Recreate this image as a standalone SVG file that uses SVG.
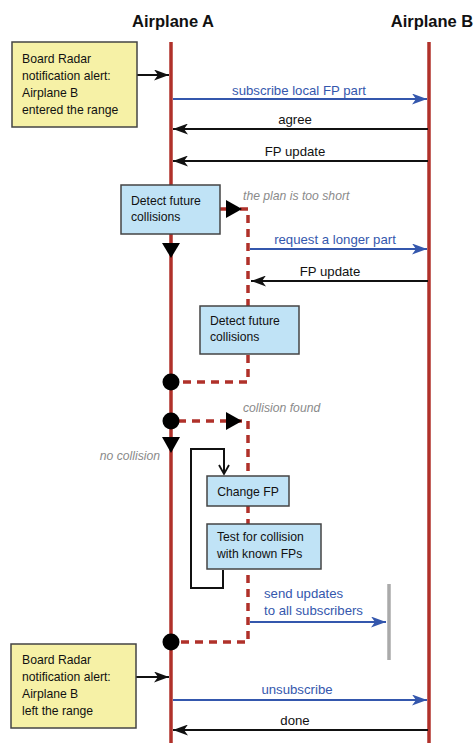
<svg xmlns="http://www.w3.org/2000/svg" width="476" height="743" viewBox="0 0 476 743">
<style>
text{font-family:"Liberation Sans","Open Sans",Arial,sans-serif;font-size:12.2px;fill:#111}
.title{font-weight:bold;font-size:16.5px;text-anchor:middle}
.lbl{font-size:13.2px}
.blue{fill:#3457ad}
.note{fill:#8a8a8a;font-style:italic}
.mid{text-anchor:middle}
.life{stroke:#b0312a;stroke-width:3.5;fill:none}
.dash{stroke:#b0312a;stroke-width:3.5;fill:none;stroke-dasharray:8 6}
.msg{stroke:#111;stroke-width:2;fill:none}
.bmsg{stroke:#3457ad;stroke-width:2;fill:none}
.ybox{fill:#f6f1a6;stroke:#444;stroke-width:1.5}
.cbox{fill:#c0e3f6;stroke:#444;stroke-width:1.5}
</style>
<defs>
<marker id="ah" markerUnits="userSpaceOnUse" markerWidth="15" markerHeight="11" refX="15" refY="5.5" orient="auto"><path d="M0,0 L15,5.5 L0,11 L4,5.5 z" fill="#111"/></marker>
<marker id="ahb" markerUnits="userSpaceOnUse" markerWidth="15" markerHeight="11" refX="15" refY="5.5" orient="auto"><path d="M0,0 L15,5.5 L0,11 L4,5.5 z" fill="#3457ad"/></marker>
<marker id="av" markerUnits="userSpaceOnUse" markerWidth="12" markerHeight="12" refX="10" refY="6" orient="auto"><path d="M1,1 L10,6 L1,11" fill="none" stroke="#111" stroke-width="1.8"/></marker>
</defs>
<rect width="476" height="743" fill="#fff"/>
<g id="lifelines">
<text class="title" x="173" y="27">Airplane A</text>
<text class="title" x="432" y="27">Airplane B</text>
<line class="life" x1="171" y1="42" x2="171" y2="743"/>
<line class="life" x1="429" y1="42" x2="429" y2="743"/>
</g>
<g id="connectors">
<line class="msg" x1="137" y1="75" x2="169" y2="75" marker-end="url(#ah)"/>
<line class="bmsg" x1="173" y1="99" x2="427" y2="99" marker-end="url(#ahb)"/>
<line class="msg" x1="428" y1="129" x2="173" y2="129" marker-end="url(#ah)"/>
<line class="msg" x1="428" y1="161" x2="173" y2="161" marker-end="url(#ah)"/>
<line class="life" x1="220" y1="209" x2="230" y2="209"/>
<path class="dash" d="M240,209 H248 V382 H178"/>
<line class="bmsg" x1="250" y1="249" x2="427" y2="249" marker-end="url(#ahb)"/>
<line class="msg" x1="428" y1="281" x2="251" y2="281" marker-end="url(#ah)"/>
<path class="dash" d="M178,421 H248 V642 H178"/>
<path class="msg" d="M223,570 V588 H191 V449 H224 V474" marker-end="url(#av)"/>
<line class="bmsg" x1="250" y1="622" x2="386" y2="622" marker-end="url(#ahb)"/>
<line x1="389" y1="584" x2="389" y2="660" stroke="#aaa" stroke-width="3.5"/>
<line class="msg" x1="136" y1="677" x2="169" y2="677" marker-end="url(#ah)"/>
<line class="bmsg" x1="173" y1="700" x2="427" y2="700" marker-end="url(#ahb)"/>
<line class="msg" x1="428" y1="730" x2="173" y2="730" marker-end="url(#ah)"/>
<polygon points="226,200 242,209 226,218" fill="#000"/>
<polygon points="162,243 180,243 171,258" fill="#000"/>
<polygon points="226,412 242,421 226,430" fill="#000"/>
<polygon points="162,437 180,437 171,453" fill="#000"/>
<circle cx="171" cy="382" r="8.5" fill="#000"/>
<circle cx="171" cy="421" r="8.5" fill="#000"/>
<circle cx="171" cy="642" r="8.5" fill="#000"/>
</g>
<g id="labels">
<text class="lbl blue mid" x="299" y="95">subscribe local FP part</text>
<text class="lbl mid" x="295" y="124">agree</text>
<text class="lbl mid" x="295" y="156">FP update</text>
<text class="note" x="243" y="200">the plan is too short</text>
<text class="lbl blue mid" x="335" y="244">request a longer part</text>
<text class="lbl mid" x="330" y="276">FP update</text>
<text class="note" x="243" y="412">collision found</text>
<text class="note" x="160" y="460" text-anchor="end">no collision</text>
<text class="lbl blue" x="264" y="598">send updates</text>
<text class="lbl blue" x="264" y="615">to all subscribers</text>
<text class="lbl blue mid" x="297" y="694">unsubscribe</text>
<text class="lbl mid" x="295" y="725">done</text>
</g>
<g id="radar-enter">
<rect class="ybox" x="12" y="42" width="125" height="85"/>
<text x="22" y="63">Board Radar</text>
<text x="22" y="80">notification alert:</text>
<text x="22" y="97">Airplane B</text>
<text x="22" y="114">entered the range</text>
</g>
<g id="detect1">
<rect class="cbox" x="121" y="185" width="99" height="49"/>
<text x="131" y="205">Detect future</text>
<text x="131" y="221">collisions</text>
</g>
<g id="detect2">
<rect class="cbox" x="200" y="306" width="99" height="48"/>
<text x="210" y="325">Detect future</text>
<text x="210" y="341">collisions</text>
</g>
<g id="change-fp">
<rect class="cbox" x="207" y="476" width="82" height="30"/>
<text class="mid" x="248" y="496">Change FP</text>
</g>
<g id="test-collision">
<rect class="cbox" x="207" y="524" width="114" height="45"/>
<text x="217" y="541">Test for collision</text>
<text x="217" y="558">with known FPs</text>
</g>
<g id="radar-leave">
<rect class="ybox" x="11" y="644" width="125" height="84"/>
<text x="22" y="664">Board Radar</text>
<text x="22" y="681">notification alert:</text>
<text x="22" y="698">Airplane B</text>
<text x="22" y="715">left the range</text>
</g>
</svg>
